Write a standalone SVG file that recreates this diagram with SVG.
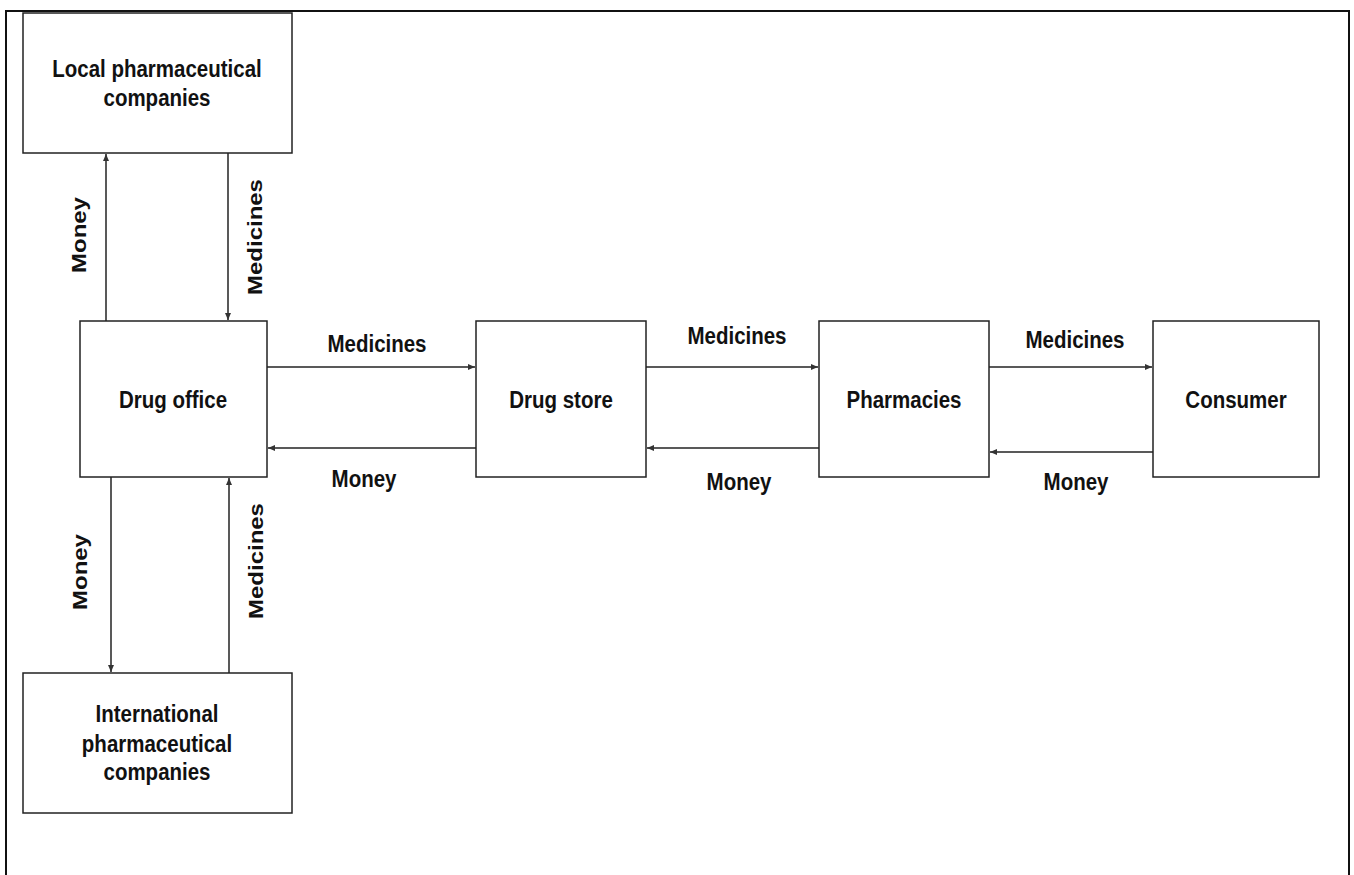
<svg xmlns="http://www.w3.org/2000/svg" width="1354" height="875" viewBox="0 0 1354 875">
<style>
.box{fill:#fff;stroke:#222;stroke-width:1.5}
.t{font-family:"Liberation Sans",Arial,sans-serif;font-weight:bold;font-size:20.5px;fill:#111;text-anchor:middle}
.c{stroke:#222;stroke-width:1.5;fill:none}
</style>
<defs>
<marker id="ah" markerWidth="8" markerHeight="8" refX="7" refY="4" orient="auto" markerUnits="userSpaceOnUse">
<path d="M0,1 L7,4 L0,7 Z" fill="#333"/>
</marker>
</defs>
<rect width="1354" height="875" fill="#fff"/>
<path d="M6,875 V11 H1349 V875" fill="none" stroke="#111" stroke-width="2"/>
<g id="connectors">
<line class="c" x1="106" y1="321" x2="106" y2="154" marker-end="url(#ah)"/>
<line class="c" x1="228" y1="153" x2="228" y2="320" marker-end="url(#ah)"/>
<line class="c" x1="111" y1="477" x2="111" y2="672" marker-end="url(#ah)"/>
<line class="c" x1="229" y1="673" x2="229" y2="478" marker-end="url(#ah)"/>
<line class="c" x1="267" y1="367" x2="475" y2="367" marker-end="url(#ah)"/>
<line class="c" x1="476" y1="448" x2="268" y2="448" marker-end="url(#ah)"/>
<line class="c" x1="646" y1="367" x2="818" y2="367" marker-end="url(#ah)"/>
<line class="c" x1="819" y1="448" x2="647" y2="448" marker-end="url(#ah)"/>
<line class="c" x1="989" y1="367" x2="1152" y2="367" marker-end="url(#ah)"/>
<line class="c" x1="1153" y1="452" x2="990" y2="452" marker-end="url(#ah)"/>
<text class="t" transform="translate(86,235) scale(1,1.17) rotate(-90)">Money</text>
<text class="t" transform="translate(262,237) scale(1,1.17) rotate(-90)">Medicines</text>
<text class="t" transform="translate(87,572) scale(1,1.17) rotate(-90)">Money</text>
<text class="t" transform="translate(263,561) scale(1,1.17) rotate(-90)">Medicines</text>
<text class="t" transform="translate(377,352) scale(1,1.2)">Medicines</text>
<text class="t" transform="translate(364,487) scale(1,1.2)">Money</text>
<text class="t" transform="translate(737,344) scale(1,1.2)">Medicines</text>
<text class="t" transform="translate(739,490) scale(1,1.2)">Money</text>
<text class="t" transform="translate(1075,348) scale(1,1.2)">Medicines</text>
<text class="t" transform="translate(1076,490) scale(1,1.2)">Money</text>
</g>
<g id="local">
<rect class="box" x="23" y="13" width="269" height="140"/>
<text class="t" transform="translate(157,77) scale(1,1.2)">Local pharmaceutical</text>
<text class="t" transform="translate(157,106) scale(1,1.2)">companies</text>
</g>
<g id="drug-office">
<rect class="box" x="80" y="321" width="187" height="156"/>
<text class="t" transform="translate(173,408) scale(1,1.2)">Drug office</text>
</g>
<g id="drug-store">
<rect class="box" x="476" y="321" width="170" height="156"/>
<text class="t" transform="translate(561,408) scale(1,1.2)">Drug store</text>
</g>
<g id="pharmacies">
<rect class="box" x="819" y="321" width="170" height="156"/>
<text class="t" transform="translate(904,408) scale(1,1.2)">Pharmacies</text>
</g>
<g id="consumer">
<rect class="box" x="1153" y="321" width="166" height="156"/>
<text class="t" transform="translate(1236,408) scale(1,1.2)">Consumer</text>
</g>
<g id="international">
<rect class="box" x="23" y="673" width="269" height="140"/>
<text class="t" transform="translate(157,722) scale(1,1.2)">International</text>
<text class="t" transform="translate(157,752) scale(1,1.2)">pharmaceutical</text>
<text class="t" transform="translate(157,780) scale(1,1.2)">companies</text>
</g>
</svg>
